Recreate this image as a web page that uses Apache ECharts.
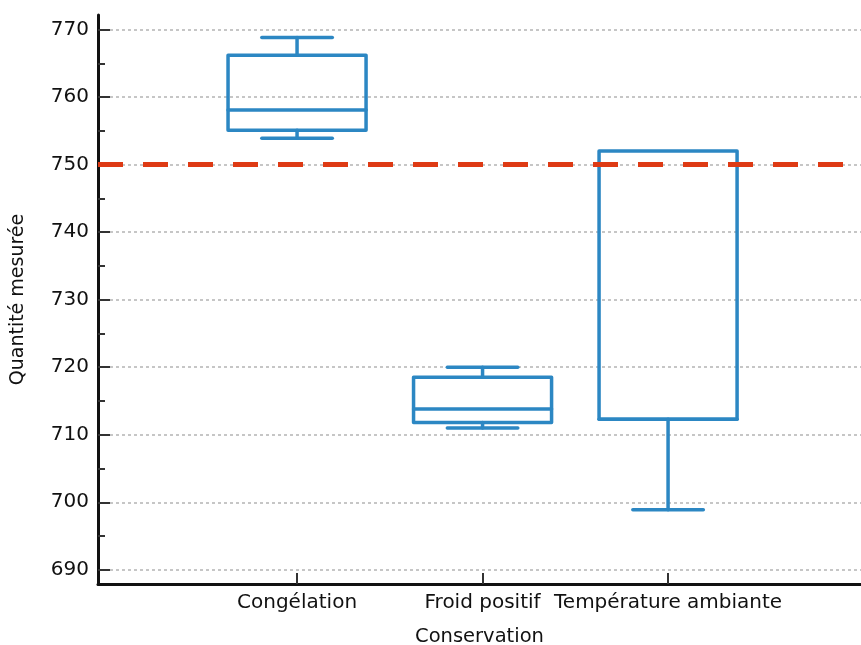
<!DOCTYPE html>
<html>
<head>
<meta charset="utf-8">
<script src="https://cdn.jsdelivr.net/npm/echarts@6/dist/echarts.min.js"></script>
<style>html,body{margin:0;padding:0;background:#fff}#c{width:861px;height:645px}</style>
</head>
<body>
<div id="c"></div>
<script>
// ---- data ----
var categories = ['Congélation', 'Froid positif', 'Température ambiante'];
var minValues = [753.9, 711.0, 698.9];
var q1Values = [755.1, 711.8, 712.3];
var medianValues = [758.1, 713.8, 712.3];
var q3Values = [766.2, 718.5, 752.0];
var maxValues = [768.8, 720.0, 752.0];
var majorTicks = [690, 700, 710, 720, 730, 740, 750, 760, 770];
var minorTicks = [695, 705, 715, 725, 735, 745, 755, 765];
var threshold = 750;

var BLUE = '#2C87C3';
var FONT = 'DejaVu Sans';
var TEXT = '#111';

var boxData = categories.map(function (c, i) {
  return [i + 1, minValues[i], q1Values[i], medianValues[i], q3Values[i], maxValues[i]];
});

function renderBox(params, api) {
  var x = api.value(0);
  var halfBox = 0.372, halfCap = 0.19;
  var vMin = api.value(1), vQ1 = api.value(2), vMed = api.value(3), vQ3 = api.value(4), vMax = api.value(5);
  var pL = api.coord([x - halfBox, vQ3]);
  var pR = api.coord([x + halfBox, vQ1]);
  var pc = function (xx, yy) { return api.coord([xx, yy]); };
  var style = { stroke: BLUE, lineWidth: 3.5, fill: null, lineCap: 'round', lineJoin: 'round' };
  var children = [];
  children.push({ type: 'rect', shape: { x: pL[0], y: pL[1], width: pR[0] - pL[0], height: pR[1] - pL[1] }, style: style });
  var m1 = pc(x - halfBox, vMed), m2 = pc(x + halfBox, vMed);
  children.push({ type: 'line', shape: { x1: m1[0], y1: m1[1], x2: m2[0], y2: m2[1] }, style: style });
  if (vMax > vQ3) {
    var a = pc(x, vQ3), b = pc(x, vMax), c1 = pc(x - halfCap, vMax), c2 = pc(x + halfCap, vMax);
    children.push({ type: 'line', shape: { x1: a[0], y1: a[1], x2: b[0], y2: b[1] }, style: style });
    children.push({ type: 'line', shape: { x1: c1[0], y1: c1[1], x2: c2[0], y2: c2[1] }, style: style });
  }
  if (vMin < vQ1) {
    var a2 = pc(x, vQ1), b2 = pc(x, vMin), d1 = pc(x - halfCap, vMin), d2 = pc(x + halfCap, vMin);
    children.push({ type: 'line', shape: { x1: a2[0], y1: a2[1], x2: b2[0], y2: b2[1] }, style: style });
    children.push({ type: 'line', shape: { x1: d1[0], y1: d1[1], x2: d2[0], y2: d2[1] }, style: style });
  }
  return { type: 'group', children: children };
}

var chart = echarts.init(document.getElementById('c'), null, { renderer: 'canvas' });
chart.setOption({
  animation: false,
  backgroundColor: '#fff',
  grid: { left: 98, right: 0, top: 15, bottom: 61, containLabel: false, outerBoundsMode: 'none' },
  xAxis: {
    type: 'value',
    min: -0.073, max: 4.04,
    name: 'Conservation', nameLocation: 'middle', nameGap: 43,
    nameTextStyle: { fontFamily: FONT, fontSize: 19.5, color: TEXT },
    axisLine: { show: true, onZero: false, lineStyle: { color: '#111', width: 3 } },
    axisTick: { show: true, inside: true, length: 11, customValues: [1, 2, 3], lineStyle: { color: '#333', width: 2 } },
    axisLabel: {
      customValues: [1, 2, 3], margin: 9,
      fontFamily: FONT, fontSize: 20, color: TEXT,
      formatter: function (v) { return categories[Math.round(v) - 1] || ''; }
    },
    splitLine: { show: false }
  },
  yAxis: [{
    type: 'value',
    min: 687.9, max: 772.15,
    name: 'Quantité mesurée', nameLocation: 'middle', nameGap: 70,
    nameTextStyle: { fontFamily: FONT, fontSize: 19, color: TEXT },
    axisLine: { show: true, onZero: false, lineStyle: { color: '#111', width: 3 } },
    axisTick: { show: true, inside: true, length: 12, customValues: majorTicks, lineStyle: { color: '#333', width: 2 } },
    axisLabel: { customValues: majorTicks, margin: 9, fontFamily: FONT, fontSize: 20, color: TEXT },
    splitLine: { show: true, lineStyle: { color: '#b4b4b4', width: 1.5, type: [3, 3] } }
  }, {
    type: 'value',
    min: 687.9, max: 772.15,
    position: 'left',
    axisLine: { show: false, onZero: false },
    axisTick: { show: true, inside: true, length: 7, customValues: minorTicks, lineStyle: { color: '#333', width: 2 } },
    axisLabel: { show: false },
    splitLine: { show: false }
  }],
  series: [{
    type: 'custom',
    renderItem: renderBox,
    data: boxData,
    encode: { x: 0, y: [1, 2, 3, 4, 5] },
    clip: false,
    z: 3,
    markLine: {
      silent: true,
      symbol: ['none', 'none'],
      label: { show: false },
      z: 10,
      lineStyle: { color: '#DE3A14', width: 5, type: [25, 20] },
      data: [{ yAxis: threshold }]
    }
  }]
});
</script>
</body>
</html>
